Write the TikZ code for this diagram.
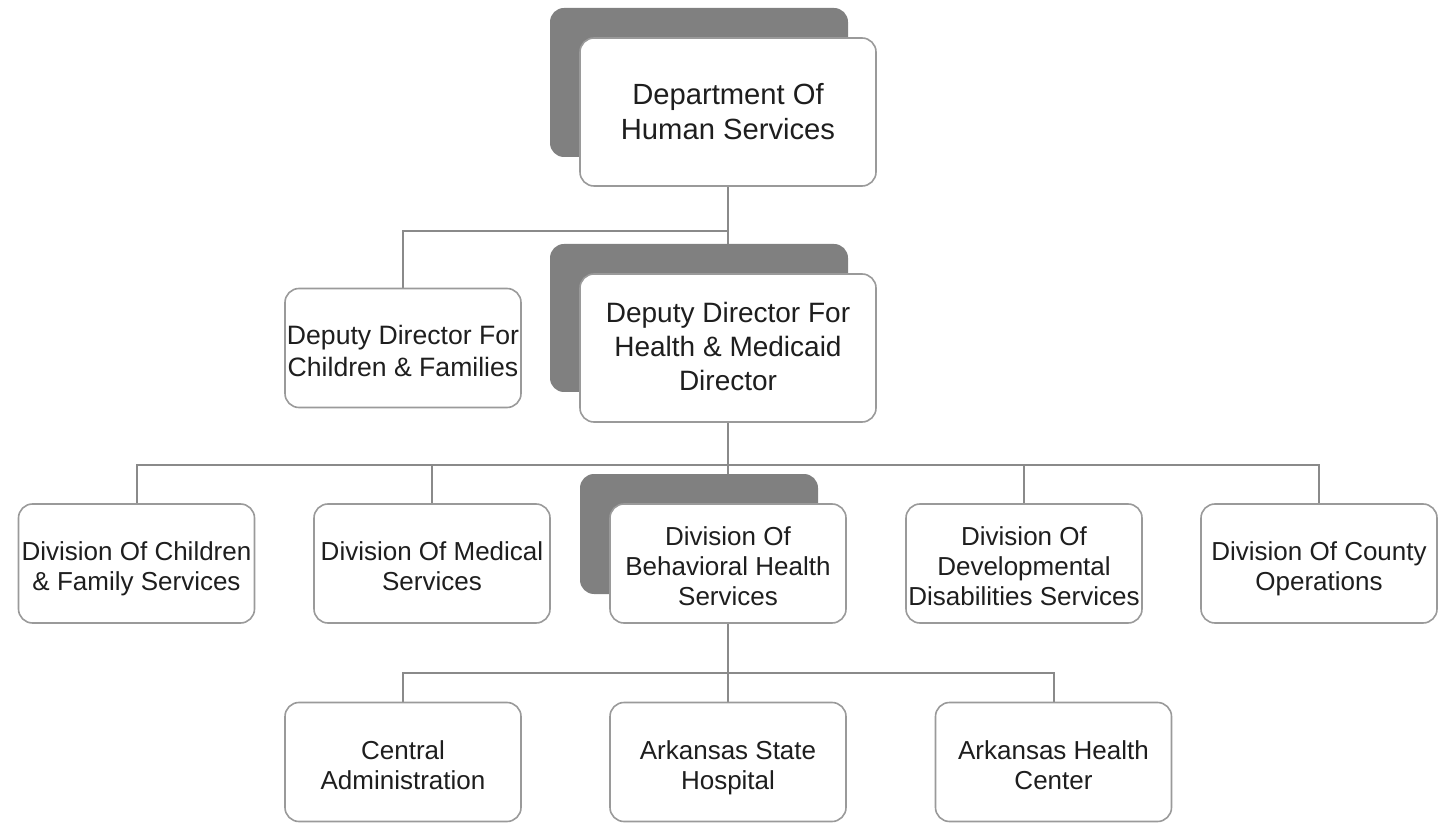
\documentclass[tikz,border=0pt]{standalone}
\usepackage{fontspec}
\setmainfont{Liberation Sans}
\usetikzlibrary{calc}
\definecolor{shadowgray}{HTML}{808080}
\definecolor{linegray}{HTML}{8A8A8A}
\definecolor{boxgray}{HTML}{9A9A9A}
\definecolor{textdark}{HTML}{1E1E1E}
\pgfdeclarelayer{connlayer}
\pgfdeclarelayer{shadowlayer}
\pgfsetlayers{connlayer,shadowlayer,main}
\newcommand{\lowtext}[2][3pt]{\raisebox{-#1}[\height][\depth]{\begin{tabular}{@{}c@{}}#2\end{tabular}}}
\tikzset{
  box/.style={draw=boxgray, line width=0.8pt, fill=white, rounded corners=7pt,
    inner sep=0pt, text=textdark, minimum width=118pt, minimum height=59.5pt,
    font=\fontsize{13}{15}\selectfont},
  bigbox/.style={box, minimum width=148pt, minimum height=74pt},
  shadowbox/.style={fill=shadowgray, draw=none, rounded corners=7pt, inner sep=0pt},
  conn/.style={draw=linegray, line width=1pt},
}
\begin{document}
\begin{tikzpicture}[x=0.5pt, y=-0.5pt]
\useasboundingbox (0,0) rectangle (1440,823);
% bus coordinates
\coordinate (bus1) at (728,231);
\coordinate (bus2) at (728,465);
\coordinate (bus3) at (728,673);
% main boxes
\node[bigbox, font=\fontsize{14.6}{17.5}\selectfont] (dhs) at (728,112) {\lowtext[1.5pt]{Department Of\\Human Services}};
\node[bigbox, font=\fontsize{14}{17}\selectfont] (dhm) at (728,348) {\lowtext[1pt]{Deputy Director For\\Health \& Medicaid\\Director}};
\node[box, font=\fontsize{13.3}{16}\selectfont] (dcf) at (403,348) {\lowtext{Deputy Director For\\Children \& Families}};
\node[box] (dcfs) at (136.5,563.5) {\lowtext{Division Of Children\\\& Family Services}};
\node[box] (dms) at (432,563.5) {\lowtext{Division Of Medical\\Services}};
\node[box] (bhs) at (728,563.5) {\lowtext{Division Of\\Behavioral Health\\Services}};
\node[box] (dds) at (1024,563.5) {\lowtext{Division Of\\Developmental\\Disabilities Services}};
\node[box] (dco) at (1319,563.5) {\lowtext{Division Of County\\Operations}};
\node[box] (cad) at (403,762) {\lowtext{Central\\Administration}};
\node[box] (ash) at (728,762) {\lowtext{Arkansas State\\Hospital}};
\node[box] (ahc) at (1053.5,762) {\lowtext{Arkansas Health\\Center}};
% shadows
\begin{pgfonlayer}{shadowlayer}
\node[shadowbox, minimum width=149pt, minimum height=74.5pt] (dhsshadow) at ($(dhs.center)+(-29,-29.5)$) {};
\node[shadowbox, minimum width=149pt, minimum height=74pt] (dhmshadow) at ($(dhm.center)+(-29,-30)$) {};
\node[shadowbox, minimum width=119pt, minimum height=60pt] (bhsshadow) at ($(bhs.center)+(-29,-29.5)$) {};
\end{pgfonlayer}
% connectors
\begin{pgfonlayer}{connlayer}
\draw[conn] (dhs.south) -- (dhm.north);
\draw[conn] (dcf.north) |- (bus1);
\draw[conn] (dhm.south) -- (bhs.north);
\draw[conn] (dcfs.north) |- (bus2);
\draw[conn] (dms.north) |- (bus2);
\draw[conn] (dds.north) |- (bus2);
\draw[conn] (dco.north) |- (bus2);
\draw[conn] (bhs.south) -- (ash.north);
\draw[conn] (cad.north) |- (bus3);
\draw[conn] (ahc.north) |- (bus3);
\end{pgfonlayer}
\end{tikzpicture}
\end{document}
